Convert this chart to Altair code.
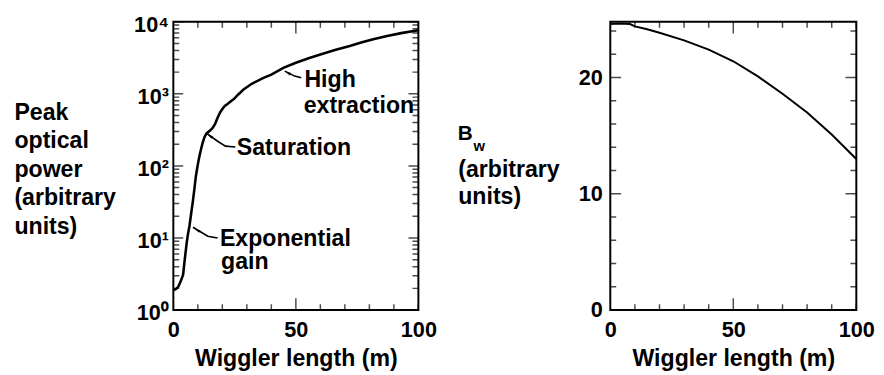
import altair as alt
import pandas as pd

FONT = "Liberation Sans"

# ---------------- data ----------------
# Left panel: peak optical power vs wiggler length (log scale)
power_x = [0, 1, 2, 3, 4, 4.5, 5, 5.5, 6, 6.6, 7.2, 7.9, 8.5, 9.2, 10, 10.6, 11.3, 11.9,
           12.7, 13.5, 14.5, 15.9, 17, 18.1, 19.2, 20.1, 21, 22.1, 23.5, 24.8, 26.5, 28.8,
           32, 36.8, 40, 44.9, 50, 55.5, 60, 66.3, 72, 77, 82, 87.7, 93, 100]
power_y = [1.9, 1.95, 2.1, 2.5, 3.1, 4.5, 6.3, 8.8, 11.5, 14.8, 21, 31, 45, 72, 105, 134, 170, 205,
           250, 280, 300, 330, 380, 470, 560, 620, 680, 722, 790, 850, 980, 1160,
           1380, 1660, 1850, 2290, 2700, 3140, 3500, 4080, 4600, 5190, 5750, 6400, 6950, 7600]

# Right panel: wiggler field B_w vs wiggler length
field_x = [0, 4, 8, 10, 15, 20, 30, 40, 50, 60, 70, 80, 90, 100]
field_y = [24.6, 24.65, 24.6, 24.4, 24.15, 23.85, 23.2, 22.4, 21.4, 20.1, 18.6, 17.0, 15.1, 13.0]

# Annotations on the left panel (text baseline positions in data units)
ann_text = ["High", "extraction", "Saturation", "Exponential", "gain"]
ann_x = [53.5, 53.2, 25.9, 19.0, 19.5]
ann_y = [1247, 541, 142, 7.82, 3.67]

# Leader lines from the curve to the annotations
lead_id = ["high", "high", "high", "sat", "sat", "sat", "sat", "exp", "exp", "exp"]
lead_ord = [0, 1, 2, 0, 1, 2, 3, 0, 1, 2]
lead_x = [45.5, 49.5, 52.2, 13.45, 18.07, 21.3, 25.3, 8.03, 14.06, 18.07]
lead_y = [2064, 1762, 1671, 284, 220, 188, 183, 14.1, 10.6, 9.97]

# Arrow heads at the curve end of each leader
arrow_x = [46.6, 14.8, 9.6]
arrow_y = [1960, 262, 12.9]
arrow_angle = [297, 305, 301]

# Axis tick values and labels
x_ticks = list(range(0, 101, 10))
x_majors = [50]
x_label_values = [0, 50, 100]
log_ticks = [m * 10 ** e for e in range(0, 4) for m in range(1, 10)] + [10000]
log_majors = [1, 10, 100, 1000, 10000]
log_labels = ["10⁰", "10¹", "10²", "10³", "10⁴"]
b_ticks = list(range(0, 25, 2))
b_majors = [0, 10, 20]

left_title = ["Peak", "optical", "power", "(arbitrary", "units)"]
right_title = ["(arbitrary", "units)"]
x_title = "Wiggler length (m)"

W_L, W_R, H = 249, 250, 293


# ---------------- helpers ----------------
def in_list(vals, field="datum.value"):
    return "indexof([" + ",".join(str(v) for v in vals) + "], " + field + ") >= 0"


def label_axis(orient, values, label_expr, title, extra):
    kw = dict(
        orient=orient, values=values, domain=False, ticks=False, grid=False,
        labelExpr=label_expr, labelFont=FONT, labelFontSize=22, labelFontWeight="bold",
        labelColor="black", labelOverlap=False, labelFlush=False, labelBound=False,
        title=title, titleFont=FONT, titleFontSize=23.5, titleFontWeight="bold",
        titleColor="black",
    )
    kw.update(extra)
    return alt.Axis(**kw)


def tick_layers(values, majors, scale, channel, minor_len, major_len, far):
    """Inward-pointing ticks on both sides of the frame (ticks are centred on the edge and clipped)."""
    df = pd.DataFrame({"v": values})
    base = alt.Chart(df).transform_calculate(
        sz=f"{in_list(majors, 'datum.v')} ? {2 * major_len} : {2 * minor_len}"
    )
    layers = []
    for edge in (0, far):
        if channel == "x":
            m = base.mark_tick(color="black", thickness=1.5, clip=True, orient="vertical").encode(
                x=alt.X("v:Q", scale=scale, axis=None),
                y=alt.value(edge),
                size=alt.Size("sz:Q", scale=None, legend=None),
            )
        else:
            m = base.mark_tick(color="black", thickness=1.5, clip=True, orient="horizontal").encode(
                y=alt.Y("v:Q", scale=scale, axis=None),
                x=alt.value(edge),
                size=alt.Size("sz:Q", scale=None, legend=None),
            )
        layers.append(m)
    return layers


x_lab_expr = in_list(x_label_values) + " ? datum.label : ''"
x_extra = dict(labelPadding=10, titleY=56, titleBaseline="alphabetic")

xs = alt.Scale(domain=[0, 100], nice=False)

# ---------------- left panel ----------------
pw = pd.DataFrame({"x": power_x, "y": power_y})
ys_log = alt.Scale(type="log", domain=[1, 10000], nice=False)

log_expr = " : ".join(
    f"datum.value === {v} ? '{t}'" for v, t in zip(log_majors, log_labels)
) + " : ''"

left_line = alt.Chart(pw).mark_line(color="black", strokeWidth=2.6).encode(
    x=alt.X("x:Q", scale=xs, axis=label_axis("bottom", x_ticks, x_lab_expr, x_title, x_extra)),
    y=alt.Y("y:Q", scale=ys_log, axis=label_axis(
        "left", log_majors, log_expr, left_title,
        dict(labelPadding=5, labelOffset=3, titleAngle=0, titleAlign="left",
             titleBaseline="alphabetic", titleX=-162, titleY=99, titleLineHeight=29))),
)
ann = pd.DataFrame({"t": ann_text, "x": ann_x, "y": ann_y})
left_text = alt.Chart(ann).mark_text(
    align="left", baseline="alphabetic", font=FONT, fontSize=23.5, fontWeight="bold", color="black"
).encode(
    x=alt.X("x:Q", scale=xs, axis=None),
    y=alt.Y("y:Q", scale=ys_log, axis=None),
    text="t:N",
)
lead = pd.DataFrame({"id": lead_id, "o": lead_ord, "x": lead_x, "y": lead_y})
left_lead = alt.Chart(lead).mark_line(color="black", strokeWidth=1.6).encode(
    x=alt.X("x:Q", scale=xs, axis=None),
    y=alt.Y("y:Q", scale=ys_log, axis=None),
    detail="id:N",
    order="o:Q",
)
arrows = pd.DataFrame({"x": arrow_x, "y": arrow_y, "a": arrow_angle})
left_arrow = alt.Chart(arrows).mark_point(
    shape="M0,-1L0.4,1L-0.4,1Z", filled=True, color="black", opacity=1, size=45
).encode(
    x=alt.X("x:Q", scale=xs, axis=None),
    y=alt.Y("y:Q", scale=ys_log, axis=None),
    angle=alt.Angle("a:Q", scale=None),
)
left = alt.layer(
    left_line, left_text, left_lead, left_arrow,
    *tick_layers(x_ticks, x_majors, xs, "x", 6, 12, H),
    *tick_layers(log_ticks, log_majors, ys_log, "y", 6, 10, W_L),
).resolve_axis(x="independent", y="independent").properties(width=W_L, height=H)

# ---------------- right panel ----------------
fd = pd.DataFrame({"x": field_x, "y": field_y})
ys_lin = alt.Scale(domain=[0, 24.8], nice=False, zero=False)
b_expr = in_list(b_majors) + " ? datum.label : ''"

right_line = alt.Chart(fd).mark_line(color="black", strokeWidth=2).encode(
    x=alt.X("x:Q", scale=xs, axis=label_axis("bottom", x_ticks, x_lab_expr, x_title, x_extra)),
    y=alt.Y("y:Q", scale=ys_lin, axis=label_axis(
        "left", b_majors, b_expr, right_title,
        dict(labelPadding=8, titleAngle=0, titleAlign="left", titleBaseline="alphabetic",
             titleX=-155, titleY=157, titleLineHeight=28))),
)
b_main = alt.Chart(pd.DataFrame({"t": ["B"]})).mark_text(
    align="left", baseline="alphabetic", font=FONT, fontSize=21, fontWeight="bold", color="black"
).encode(text="t:N", x=alt.value(-155), y=alt.value(120))
b_sub = alt.Chart(pd.DataFrame({"t": ["w"]})).mark_text(
    align="left", baseline="alphabetic", font=FONT, fontSize=15, fontWeight="bold", color="black"
).encode(text="t:N", x=alt.value(-139), y=alt.value(131))

right = alt.layer(
    right_line, b_main, b_sub,
    *tick_layers(x_ticks, x_majors, xs, "x", 6, 12, H),
    *tick_layers(b_ticks, b_majors, ys_lin, "y", 6, 11, W_R),
).resolve_axis(x="independent", y="independent").properties(width=W_R, height=H)

chart = alt.hconcat(left, right, spacing=19).properties(
    padding={"left": 5, "top": 2, "right": 0, "bottom": 0}
).configure_view(stroke="black", strokeWidth=2)

chart.save("out.html", embed_options={"renderer": "svg", "actions": False})
